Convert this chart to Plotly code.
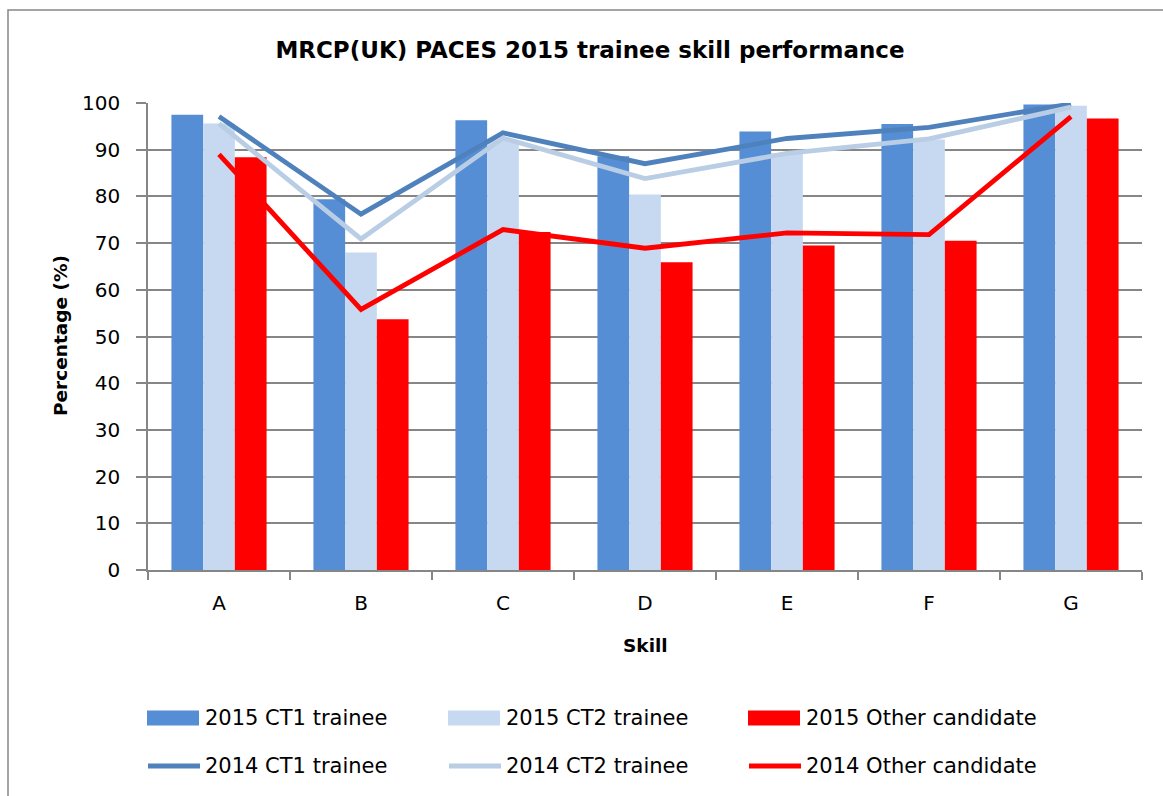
import plotly.graph_objects as go

skills = ["A", "B", "C", "D", "E", "F", "G"]
ct1_2015 = [97.5, 79.4, 96.3, 88.6, 93.9, 95.5, 99.7]
ct2_2015 = [95.6, 68.0, 92.0, 80.4, 89.2, 92.2, 99.4]
other_2015 = [88.4, 53.7, 72.4, 65.9, 69.5, 70.5, 96.7]
ct1_2014 = [97.1, 76.2, 93.6, 87.0, 92.4, 94.8, 99.8]
ct2_2014 = [95.6, 70.9, 92.5, 83.8, 89.2, 92.3, 99.1]
other_2014 = [89.0, 55.8, 72.9, 68.9, 72.2, 71.8, 97.1]
y_ticks = [0, 10, 20, 30, 40, 50, 60, 70, 80, 90, 100]

FONT = "'DejaVu Sans', sans-serif"
GRID = "#868686"

C_CT1_BAR = "#558ED5"
C_CT2_BAR = "#C6D9F1"
C_OTH_BAR = "#FF0000"
C_CT1_LINE = "#4F81BD"
C_CT2_LINE = "#B9CDE5"
C_OTH_LINE = "#FF0000"

fig = go.Figure()
bar_series = [("2015 CT1 trainee", ct1_2015, C_CT1_BAR),
              ("2015 CT2 trainee", ct2_2015, C_CT2_BAR),
              ("2015 Other candidate", other_2015, C_OTH_BAR)]
line_series = [("2014 CT1 trainee", ct1_2014, C_CT1_LINE),
               ("2014 CT2 trainee", ct2_2014, C_CT2_LINE),
               ("2014 Other candidate", other_2014, C_OTH_LINE)]
for name, vals, col in bar_series:
    fig.add_trace(go.Bar(x=skills, y=vals, name=name, marker_color=col,
                         marker_line_width=0, showlegend=False))
for name, vals, col in line_series:
    fig.add_trace(go.Scatter(x=skills, y=vals, name=name, mode="lines",
                             line=dict(color=col, width=4.8), showlegend=False))

# plot area in pixels
L, R, T, B = 148, 1142, 103, 570
W, H = 1163, 796

def px(x):
    return (x - L) / (R - L)

def py(y):
    return (B - y) / (B - T)

shapes = []
annotations = []
# outer chart border
shapes.append(dict(type="rect", xref="paper", yref="paper",
                   x0=px(8), x1=px(1300), y0=py(10), y1=py(900),
                   line=dict(color=GRID, width=1.5), fillcolor="rgba(0,0,0,0)", layer="below"))

# custom legend
cols_x = [147, 448, 748]
rows_y = [718, 766]
LEG_SIZE = 21
for i, (name, vals, col) in enumerate(bar_series):
    x0 = cols_x[i]
    shapes.append(dict(type="rect", xref="paper", yref="paper",
                       x0=px(x0), x1=px(x0 + 52), y0=py(rows_y[0] + 7.5), y1=py(rows_y[0] - 7.5),
                       fillcolor=col, line=dict(width=0)))
    annotations.append(dict(text=name, xref="paper", yref="paper", x=px(x0 + 56), y=py(rows_y[0]),
                            xanchor="left", yanchor="middle", showarrow=False,
                            font=dict(family=FONT, size=LEG_SIZE, color="#000000")))
for i, (name, vals, col) in enumerate(line_series):
    x0 = cols_x[i]
    shapes.append(dict(type="line", xref="paper", yref="paper",
                       x0=px(x0 + 1), x1=px(x0 + 53), y0=py(rows_y[1]), y1=py(rows_y[1]),
                       line=dict(color=col, width=4.8)))
    annotations.append(dict(text=name, xref="paper", yref="paper", x=px(x0 + 56), y=py(rows_y[1]),
                            xanchor="left", yanchor="middle", showarrow=False,
                            font=dict(family=FONT, size=LEG_SIZE, color="#000000")))

# axis titles
annotations.append(dict(text="<b>Percentage (%)</b>", xref="paper", yref="paper",
                        x=px(60), y=py(336), textangle=-90, showarrow=False,
                        xanchor="center", yanchor="middle",
                        font=dict(family=FONT, size=18.5, color="#000000")))
annotations.append(dict(text="<b>Skill</b>", xref="paper", yref="paper",
                        x=px(645), y=py(645), showarrow=False,
                        xanchor="center", yanchor="middle",
                        font=dict(family=FONT, size=18.5, color="#000000")))

fig.update_layout(
    width=W, height=H,
    margin=dict(l=L, r=W - R, t=T, b=H - B, autoexpand=False),
    paper_bgcolor="white", plot_bgcolor="white",
    barmode="group", bargap=0.33, bargroupgap=0,
    title=dict(text="<b>MRCP(UK) PACES 2015 trainee skill performance</b>",
               x=590 / W, y=1 - 50 / H, xref="container", yref="container",
               xanchor="center", yanchor="middle",
               font=dict(family=FONT, size=23, color="#000000")),
    font=dict(family=FONT, size=20, color="#000000"),
    shapes=shapes, annotations=annotations,
    showlegend=False,
)
fig.update_xaxes(showline=True, linecolor=GRID, linewidth=1.5,
                 ticks="outside", tickson="boundaries", ticklen=8, tickcolor=GRID, tickwidth=1.5,
                 tickfont=dict(family=FONT, size=20), showgrid=False, ticklabelstandoff=14)
fig.update_yaxes(range=[0, 100], tickvals=y_ticks, showline=True, linecolor=GRID, linewidth=1.5,
                 ticks="outside", ticklen=10, tickcolor=GRID, tickwidth=1.5,
                 showgrid=True, gridcolor=GRID, gridwidth=1.5,
                 tickfont=dict(family=FONT, size=20), zeroline=False, ticklabelstandoff=12)

fig.write_html("out.html", config={"displayModeBar": False},
               post_script="document.body.style.margin='0px';")
